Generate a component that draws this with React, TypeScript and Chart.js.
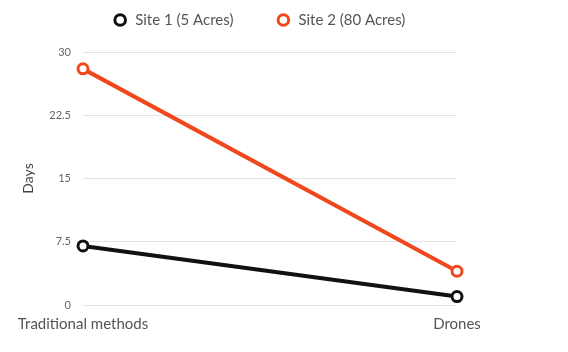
import React, { useEffect, useRef } from "react";
import { Chart, registerables } from "chart.js";

Chart.register(...registerables);

const categories = ["Traditional methods", "Drones"];
const site1Values = [7, 1];
const site2Values = [28, 4];
const seriesNames = ["Site 1 (5 Acres)", "Site 2 (80 Acres)"];
const yTicks = [0, 7.5, 15, 22.5, 30];

export default function App() {
  const ref = useRef<HTMLCanvasElement | null>(null);
  useEffect(() => {
    if (!ref.current) return;
    const font = "Lato, 'Open Sans', sans-serif";
    const legendHeightPlugin = {
      id: "legendHeight",
      afterInit(chart: any) {
        const lg = chart.legend;
        if (!lg) return;
        const orig = lg.fit.bind(lg);
        lg.fit = function () {
          orig();
          this.height = 82;
        };
      },
    };
    const chart = new Chart(ref.current, {
      type: "line",
      data: {
        labels: categories,
        datasets: [
          {
            label: seriesNames[0],
            data: site1Values,
            borderColor: "#111111",
            backgroundColor: "#ffffff",
            borderWidth: 4,
            pointRadius: 5,
            pointBorderWidth: 3,
            pointBackgroundColor: "#ffffff",
            pointBorderColor: "#111111",
            tension: 0,
          },
          {
            label: seriesNames[1],
            data: site2Values,
            borderColor: "#f0471c",
            backgroundColor: "#ffffff",
            borderWidth: 4,
            pointRadius: 5,
            pointBorderWidth: 3,
            pointBackgroundColor: "#ffffff",
            pointBorderColor: "#f0471c",
            tension: 0,
          },
        ],
      },
      plugins: [legendHeightPlugin],
      options: {
        animation: false,
        responsive: true,
        maintainAspectRatio: false,
        layout: { padding: { top: -30, left: 16, right: 66, bottom: 17 } },
        plugins: {
          legend: {
            position: "top",
            labels: {
              usePointStyle: true,
              pointStyle: "circle",
              boxWidth: 15,
              boxHeight: 7.5,
              padding: 42.5,
              color: "#555555",
              font: { family: font, size: 15 },
            },
          },
          tooltip: { enabled: false },
        },
        scales: {
          x: {
            offset: false,
            grid: { display: false },
            border: { display: false },
            ticks: { color: "#555555", font: { family: font, size: 15 }, padding: 2, maxRotation: 0 },
          },
          y: {
            min: 0,
            max: 30,
            afterBuildTicks: (s: any) => {
              s.ticks = yTicks.map((v) => ({ value: v }));
            },
            afterFit: (s: any) => {
              s.width = 67;
            },
            grid: { color: "#e3e3e3", drawTicks: false },
            border: { display: false },
            ticks: { color: "#666666", font: { family: font, size: 11 }, padding: 12 },
            title: { display: true, text: "Days", color: "#444444", font: { family: font, size: 14 } },
          },
          y2: {
            position: "right",
            display: true,
            grid: { display: false },
            border: { display: false },
            ticks: { display: false },
            afterFit: (s: any) => {
              s.width = 45;
            },
          },
        },
      },
    });
    return () => chart.destroy();
  }, []);
  return (
    <div style={{ position: "absolute", left: 0, top: 0, width: 568, height: 352, background: "#fff" }}>
      <canvas ref={ref} />
    </div>
  );
}
